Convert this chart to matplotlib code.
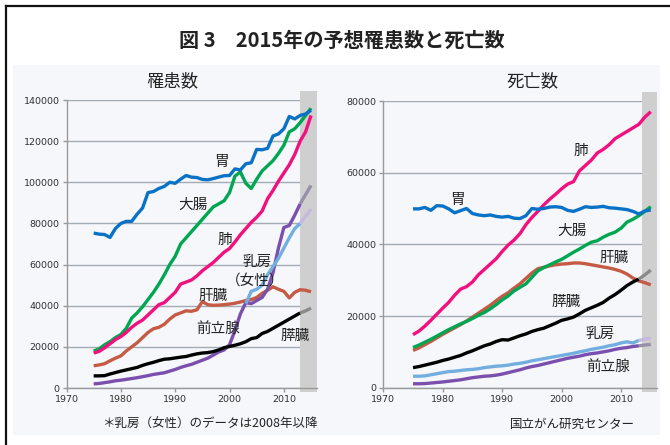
import matplotlib.pyplot as plt
from matplotlib.lines import Line2D
from matplotlib.patches import Rectangle
from matplotlib.transforms import blended_transform_factory

plt.rcParams['font.family'] = ['Noto Sans CJK JP', 'DejaVu Sans']

years = list(range(1975, 2016))
breast_years = list(range(2003, 2016))

# 罹患数 (incidence)
inc_stomach = [75300, 74800, 74600, 73200, 77500, 80000, 81000, 81000, 84500, 87500,
               95000, 95500, 97000, 98000, 100000, 99500, 101500, 103300, 102500, 102300,
               101400, 101200, 101800, 102500, 103200, 103300, 106500, 106000, 109000, 109500,
               116000, 115800, 116500, 122500, 123500, 126000, 132000, 130800, 132500, 133200,
               135000]
inc_colon = [18000, 19000, 21000, 22500, 24500, 26000, 29000, 34000, 36500, 39500,
             43000, 46500, 50500, 55000, 60000, 64000, 70000, 73000, 76000, 79000,
             82000, 85000, 88000, 89500, 91000, 95000, 103000, 105000, 99500, 97000,
             101500, 105500, 108000, 110500, 114000, 118000, 124500, 126000, 129000, 132500,
             136000]
inc_lung = [17000, 17800, 19500, 21500, 23500, 25000, 27000, 29500, 31500, 33000,
            35500, 38000, 40500, 41500, 44000, 46500, 50500, 51500, 52500, 54500,
            57000, 59000, 61000, 63500, 66000, 67800, 71000, 74500, 77500, 80500,
            83000, 86000, 92000, 96000, 100500, 104500, 108500, 113500, 120000, 124500,
            132500]
inc_liver = [10800, 11200, 11800, 13200, 14500, 15600, 18000, 20000, 22000, 24500,
             27000, 28800, 29500, 31000, 33500, 35500, 36500, 37500, 37300, 38000,
             42000, 40500, 40200, 40300, 40500, 40800, 41200, 41800, 42500, 43000,
             44000, 46000, 47500, 49200, 48000, 47000, 43800, 46500, 47800, 47500,
             46800]
inc_pancreas = [5900, 5900, 6000, 6800, 7500, 8200, 8800, 9400, 10000, 11000,
                11800, 12500, 13300, 14000, 14200, 14600, 15000, 15300, 16000, 16600,
                17000, 17200, 17700, 18500, 19600, 20200, 20800, 21500, 22500, 24000,
                24500, 26500, 27500, 29000, 30500, 32000, 33500, 35000, 36500, 37500,
                38800]
inc_prostate = [2000, 2200, 2600, 3000, 3500, 3800, 4200, 4600, 5000, 5500,
                6000, 6600, 7000, 7400, 8200, 9000, 10000, 10800, 11500, 12500,
                13500, 14500, 16000, 17500, 18500, 21000, 28000, 36000, 41500, 41000,
                42500, 44000, 48000, 56000, 68000, 78000, 79000, 84000, 89500, 94000,
                98500]
inc_breast = [41000, 47000, 48000, 50000, 55000, 59000, 63000, 68000, 73000, 77500,
              80000, 83500, 87000]

# 死亡数 (deaths)
dth_stomach = [49900, 49900, 50300, 49500, 50800, 50700, 49900, 48800, 49400, 50000,
               48600, 48200, 48000, 48200, 47800, 47600, 47800, 47300, 47200, 48000,
               50000, 49800, 50000, 50400, 50500, 50300, 49500, 49200, 49800, 50500,
               50300, 50400, 50600, 50200, 50100, 49900, 49700, 49200, 48500, 49300,
               49600]
dth_lung = [14800, 15800, 17200, 18800, 20500, 22200, 23800, 25800, 27500, 28200,
            29500, 31500, 33000, 34500, 36000, 38000, 39800, 41200, 43000, 45500,
            47500, 49200, 51000, 52600, 54000, 55500, 56800, 57500, 60500, 62000,
            63500, 65500, 66500, 67800, 69500, 70500, 71500, 72500, 73500, 75500,
            77000]
dth_colon = [11200, 11900, 12700, 13500, 14400, 15300, 16200, 17000, 17800, 18500,
             19300, 20200, 21000, 22000, 23200, 24500, 25600, 27000, 28000, 29000,
             30800, 32600, 33500, 34300, 35100, 35800, 36800, 37800, 38700, 39700,
             40600, 41000, 42000, 42800, 43400, 44500, 46200, 47000, 48000, 49200,
             50500]
dth_liver = [10400, 11100, 12000, 12900, 13900, 14900, 15800, 16700, 17600, 18600,
             19700, 20800, 21900, 23000, 24300, 25500, 26500, 27800, 29000, 30500,
             32000, 33200, 33600, 34000, 34300, 34500, 34600, 34800, 34800, 34600,
             34300, 34000, 33700, 33400, 33000, 32500, 31700, 30600, 29800, 29300,
             28700]
dth_pancreas = [5600, 5900, 6300, 6700, 7100, 7600, 8000, 8500, 9000, 9700,
                10300, 11000, 11700, 12200, 12900, 13400, 13300, 13900, 14500, 15000,
                15700, 16200, 16600, 17300, 18000, 18800, 19200, 19700, 20600, 21600,
                22300, 23000, 23800, 25000, 26000, 27200, 28500, 29500, 30300, 31500,
                32800]
dth_breast = [3200, 3200, 3300, 3600, 3900, 4200, 4500, 4600, 4800, 5000,
              5100, 5300, 5600, 5800, 6000, 6100, 6300, 6600, 6800, 7100,
              7500, 7800, 8100, 8400, 8700, 9000, 9300, 9600, 10000, 10300,
              10700, 11000, 11300, 11700, 12000, 12500, 12800, 12500, 13200, 13500,
              13800]
dth_prostate = [1100, 1100, 1150, 1300, 1450, 1600, 1800, 2000, 2200, 2500,
                2800, 3000, 3200, 3300, 3500, 3800, 4200, 4600, 5000, 5500,
                5900, 6200, 6600, 7000, 7400, 7800, 8200, 8500, 8800, 9200,
                9500, 9700, 10000, 10300, 10700, 11000, 11200, 11500, 11700, 11900,
                12100]

C_STOMACH = '#0a72c6'
C_COLON = '#00a651'
C_LUNG = '#f0117f'
C_LIVER = '#c55a45'
C_PANC = '#000000'
C_BREAST = '#72aee0'
C_PROST = '#7a4fae'
# faded colours used for the projected tail inside the grey band
FADE = {C_PANC: '#8a8a8a', C_PROST: '#9890a8', C_BREAST: '#c6b8de'}
SPLIT = 2013
LW = 2.4

fig = plt.figure(figsize=(6.7, 4.45), dpi=100)

# light panel background and black frame (top / left edges)
fig.add_artist(Rectangle((13 / 670, 1 - 435 / 445), 647 / 670, 370 / 445,
                         transform=fig.transFigure, facecolor='#f5f7fa',
                         edgecolor='none', zorder=0))
fig.add_artist(Line2D([6 / 670, 6 / 670], [0, 1 - 6 / 445], transform=fig.transFigure,
                      color='#111111', lw=1.6))
fig.add_artist(Line2D([6 / 670, 1], [1 - 6 / 445, 1 - 6 / 445], transform=fig.transFigure,
                      color='#111111', lw=1.6))

fig.text(0.51, 1 - 40 / 445, '図 3　2015年の予想罹患数と死亡数', ha='center', va='center',
         fontsize=14.5, fontweight='bold', color='#222222')


def series(ax, x, y, color, z=3):
    xs = [v for v in x if v <= SPLIT]
    n = len(xs)
    if color in FADE:
        ax.plot(x[:n], y[:n], color=color, lw=LW, zorder=z, solid_capstyle='butt')
        ax.plot(x[n - 1:], y[n - 1:], color=FADE[color], lw=LW, zorder=z,
                solid_capstyle='butt')
    else:
        ax.plot(x, y, color=color, lw=LW, zorder=z, solid_capstyle='butt')


def style(ax, ymax, xmax, band_start):
    ax.set_facecolor('none')
    ax.set_xlim(1970, xmax)
    ax.set_ylim(0, ymax)
    ax.set_xticks([1970, 1980, 1990, 2000, 2010])
    ax.set_yticks(range(0, ymax + 1, 20000))
    ax.yaxis.grid(True, color='#a3abb3', lw=1.0, zorder=1)
    ax.set_axisbelow(True)
    for s in ('top', 'right'):
        ax.spines[s].set_visible(False)
    for s in ('left', 'bottom'):
        ax.spines[s].set_color('#9a9a9a')
        ax.spines[s].set_linewidth(1.0)
    ax.tick_params(colors='#9a9a9a', length=3, width=1.0, labelsize=6.8,
                   labelcolor='#303030', pad=2)
    for lab in ax.get_xticklabels() + ax.get_yticklabels():
        lab.set_family(['Liberation Sans Narrow', 'DejaVu Sans'])
    tr = blended_transform_factory(ax.transData, ax.transAxes)
    ax.add_patch(Rectangle((band_start, -0.015), xmax - band_start, 1.045,
                           transform=tr, facecolor='#cfcfcf', edgecolor='none',
                           zorder=2, clip_on=False))


# ---- 罹患数 ----
ax1 = fig.add_axes([66.5 / 670, 1 - 388 / 445, 250.5 / 670, 288 / 445])
style(ax1, 140000, 2016.1, 2013.0)
series(ax1, years, inc_liver, C_LIVER)
series(ax1, years, inc_colon, C_COLON)
series(ax1, years, inc_lung, C_LUNG)
series(ax1, years, inc_stomach, C_STOMACH)
series(ax1, years, inc_prostate, C_PROST)
series(ax1, breast_years, inc_breast, C_BREAST)
series(ax1, years, inc_pancreas, C_PANC)

lab_kw = dict(fontsize=10.5, ha='center', va='center', color='#222222', zorder=5)
ax1.text(1998.5, 110000, '胃', **lab_kw)
ax1.text(1993.3, 89000, '大腸', **lab_kw)
ax1.text(1999.2, 72000, '肺', **lab_kw)
ax1.text(2005.1, 61500, '乳房', **lab_kw)
ax1.text(2004.7, 52000, '（女性）', **lab_kw)
ax1.text(1997.0, 44700, '肝臓', **lab_kw)
ax1.text(1997.9, 28700, '前立腺', **lab_kw)
ax1.text(2012.1, 25300, '膵臓', **lab_kw)

# ---- 死亡数 ----
ax2 = fig.add_axes([383.3 / 670, 1 - 387.7 / 445, 273.4 / 670, 286.7 / 445])
style(ax2, 80000, 2016.0, 2013.5)
series(ax2, years, dth_liver, C_LIVER)
series(ax2, years, dth_colon, C_COLON)
series(ax2, years, dth_lung, C_LUNG)
series(ax2, years, dth_stomach, C_STOMACH)
series(ax2, years, dth_prostate, C_PROST)
series(ax2, years, dth_breast, C_BREAST)
series(ax2, years, dth_pancreas, C_PANC)

ax2.text(2003.3, 66000, '肺', **lab_kw)
ax2.text(1982.4, 52300, '胃', **lab_kw)
ax2.text(2001.8, 43900, '大腸', **lab_kw)
ax2.text(2008.9, 36200, '肝臓', **lab_kw)
ax2.text(2000.7, 23900, '膵臓', **lab_kw)
ax2.text(2006.5, 15000, '乳房', **lab_kw)
ax2.text(2007.8, 5800, '前立腺', **lab_kw)

# panel titles sit off-centre in the original
fig.text(172 / 670, 1 - 81 / 445, '罹患数', ha='center', va='center',
         fontsize=12.5, color='#222222')
fig.text(533 / 670, 1 - 81 / 445, '死亡数', ha='center', va='center',
         fontsize=12.5, color='#222222')

fig.text(210 / 670, 1 - 424 / 445, '＊乳房（女性）のデータは2008年以降', ha='center',
         va='center', fontsize=9, color='#222222')
fig.text(572 / 670, 1 - 424 / 445, '国立がん研究センター', ha='center', va='center',
         fontsize=9, color='#222222')

fig.savefig('out.png', dpi=100)
